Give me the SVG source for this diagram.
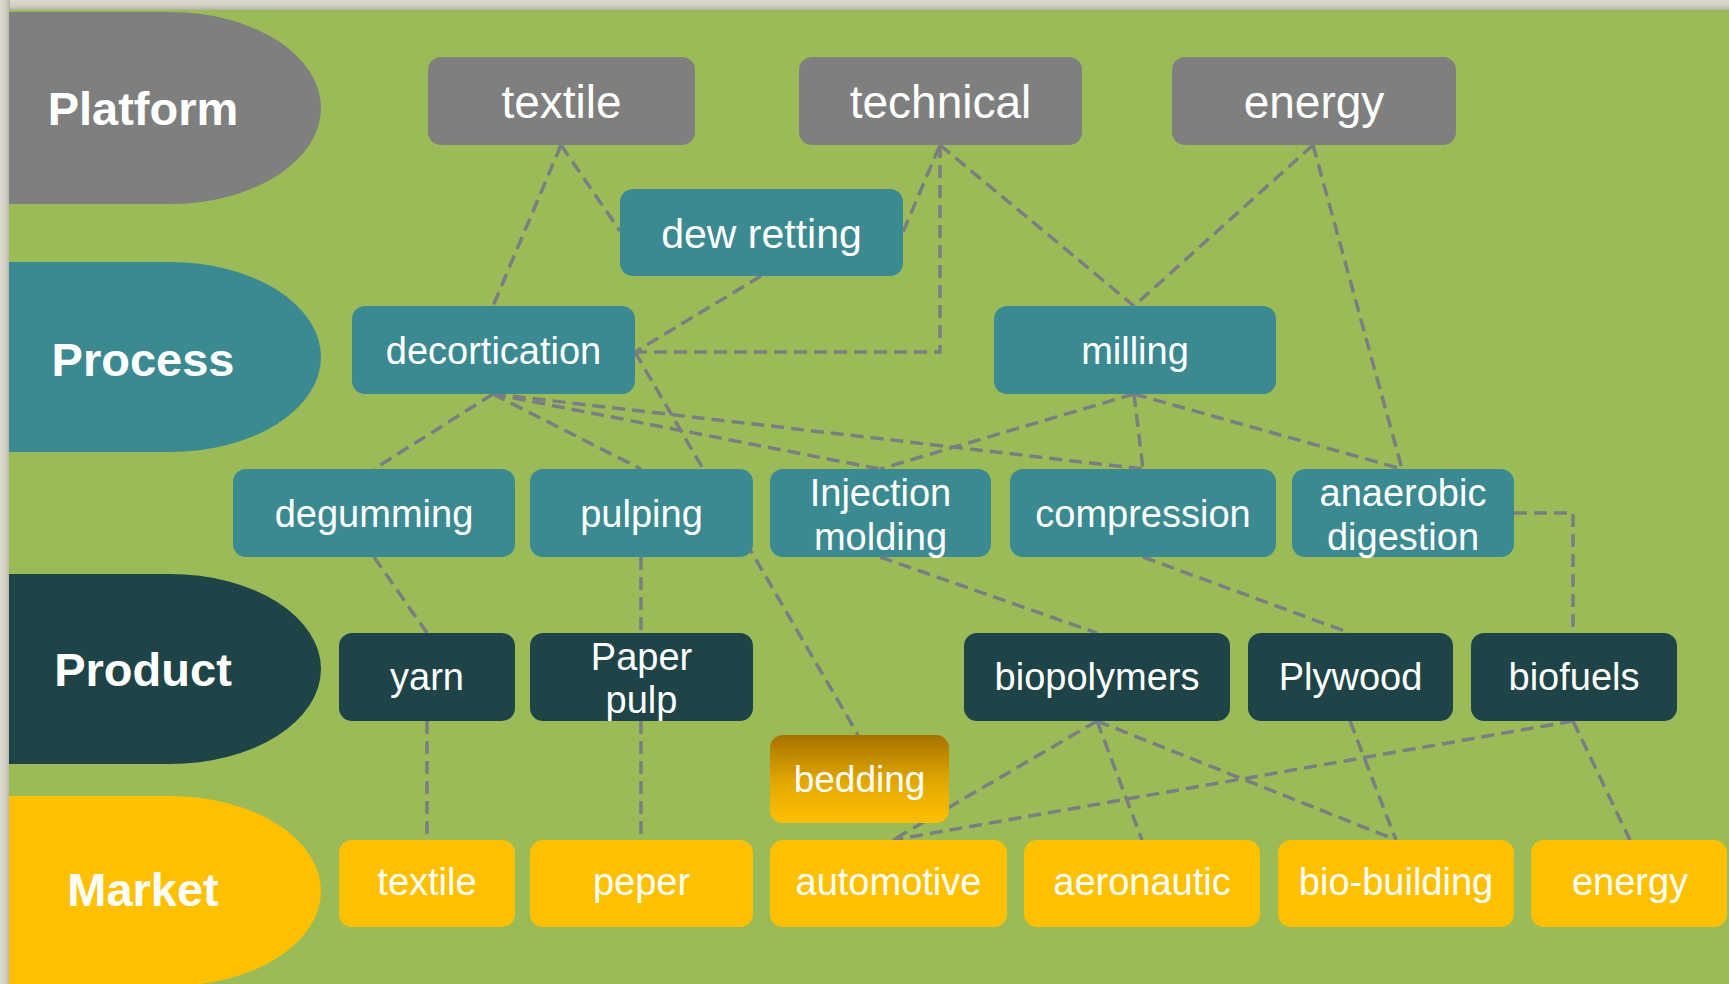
<svg xmlns="http://www.w3.org/2000/svg" width="1729" height="984" viewBox="0 0 1729 984">
  <defs>
    <linearGradient id="frameTop" x1="0" y1="0" x2="0" y2="1">
      <stop offset="0" stop-color="#dedbd0"/>
      <stop offset="0.6" stop-color="#cfccbf"/>
      <stop offset="1" stop-color="#a9a79b"/>
    </linearGradient>
    <linearGradient id="frameLeft" x1="0" y1="0" x2="1" y2="0">
      <stop offset="0" stop-color="#dedbd0"/>
      <stop offset="0.6" stop-color="#cfccbf"/>
      <stop offset="1" stop-color="#b3b1a5"/>
    </linearGradient>
    <linearGradient id="beddingFill" x1="0" y1="0" x2="0" y2="1">
      <stop offset="0" stop-color="#a87200"/>
      <stop offset="0.55" stop-color="#e3a900"/>
      <stop offset="1" stop-color="#ffc000"/>
    </linearGradient>
    <style>
      .lane-label { font-family: "Liberation Sans", Arial, sans-serif; font-weight: bold; font-size: 47px; fill: #ffffff; text-anchor: middle; }
      .big { font-family: "Liberation Sans", Arial, sans-serif; font-size: 46px; fill: #ffffff; text-anchor: middle; }
      .txt { font-family: "Liberation Sans", Arial, sans-serif; font-size: 38px; fill: #ffffff; text-anchor: middle; }
      .platform { fill: #7f7f7f; }
      .process { fill: #3b8a91; }
      .product { fill: #1f4448; }
      .market { fill: #ffc000; }
      .link { fill: none; stroke: #7b7e80; stroke-width: 3.5; stroke-dasharray: 13 7; }
    </style>
  </defs>

  <!-- frame and background -->
  <rect x="0" y="0" width="1729" height="984" fill="#cfccbf"/>
  <rect x="0" y="0" width="1729" height="11" fill="url(#frameTop)"/>
  <rect x="0" y="0" width="10" height="984" fill="url(#frameLeft)"/>
  <rect x="9" y="10" width="1720" height="974" fill="#9bbb59"/>

  <!-- lane headers -->
  <g id="lane-platform">
    <path class="platform" d="M 9 12 H 170 A 151 96 0 0 1 170 204 H 9 Z"/>
    <text class="lane-label" x="143" y="125">Platform</text>
  </g>
  <g id="lane-process">
    <path class="process" d="M 9 262 H 170 A 151 95 0 0 1 170 452 H 9 Z"/>
    <text class="lane-label" x="143" y="376">Process</text>
  </g>
  <g id="lane-product">
    <path class="product" d="M 9 574 H 170 A 151 95 0 0 1 170 764 H 9 Z"/>
    <text class="lane-label" x="143" y="686">Product</text>
  </g>
  <g id="lane-market">
    <path class="market" d="M 9 796 H 170 A 151 95 0 0 1 170 986 H 9 Z"/>
    <text class="lane-label" x="143" y="906">Market</text>
  </g>

  <!-- connectors -->
  <g id="connectors">
    <line class="link" x1="561" y1="145" x2="493" y2="306"/>
    <line class="link" x1="561" y1="145" x2="620" y2="231"/>
    <line class="link" x1="903" y1="232" x2="940" y2="145"/>
    <polyline class="link" points="940,145 940,352 635,352"/>
    <line class="link" x1="761" y1="276" x2="635" y2="352"/>
    <line class="link" x1="635" y1="352" x2="858" y2="735"/>
    <line class="link" x1="940" y1="145" x2="1134" y2="306"/>
    <line class="link" x1="1313" y1="145" x2="1134" y2="306"/>
    <line class="link" x1="1313" y1="145" x2="1402" y2="469"/>
    <line class="link" x1="493" y1="394" x2="374" y2="469"/>
    <line class="link" x1="493" y1="394" x2="641" y2="469"/>
    <line class="link" x1="493" y1="394" x2="880" y2="469"/>
    <line class="link" x1="493" y1="394" x2="1143" y2="469"/>
    <line class="link" x1="1134" y1="394" x2="880" y2="469"/>
    <line class="link" x1="1134" y1="394" x2="1143" y2="469"/>
    <line class="link" x1="1134" y1="394" x2="1402" y2="469"/>
    <line class="link" x1="374" y1="557" x2="427" y2="633"/>
    <line class="link" x1="641" y1="557" x2="641" y2="633"/>
    <line class="link" x1="880" y1="557" x2="1097" y2="633"/>
    <line class="link" x1="1143" y1="557" x2="1350" y2="633"/>
    <polyline class="link" points="1514,513 1573,513 1573,633"/>
    <line class="link" x1="427" y1="721" x2="427" y2="840"/>
    <line class="link" x1="641" y1="721" x2="641" y2="840"/>
    <line class="link" x1="1097" y1="721" x2="893" y2="840"/>
    <line class="link" x1="1097" y1="721" x2="1142" y2="840"/>
    <line class="link" x1="1097" y1="721" x2="1396" y2="840"/>
    <line class="link" x1="1350" y1="721" x2="1396" y2="840"/>
    <line class="link" x1="1573" y1="721" x2="893" y2="840"/>
    <line class="link" x1="1573" y1="721" x2="1630" y2="840"/>
  </g>

  <!-- platform row -->
  <g id="platform-textile">
    <rect class="platform" x="428" y="57" width="267" height="88" rx="13"/>
    <text class="big" x="561.5" y="118">textile</text>
  </g>
  <g id="platform-technical">
    <rect class="platform" x="799" y="57" width="283" height="88" rx="13"/>
    <text class="big" x="940.5" y="118">technical</text>
  </g>
  <g id="platform-energy">
    <rect class="platform" x="1172" y="57" width="284" height="88" rx="13"/>
    <text class="big" x="1314" y="118">energy</text>
  </g>

  <!-- process rows -->
  <g id="process-dew-retting">
    <rect class="process" x="620" y="189" width="283" height="87" rx="13"/>
    <text class="txt" x="761.5" y="248" style="font-size:41px">dew retting</text>
  </g>
  <g id="process-decortication">
    <rect class="process" x="352" y="306" width="283" height="88" rx="13"/>
    <text class="txt" x="493.5" y="364">decortication</text>
  </g>
  <g id="process-milling">
    <rect class="process" x="994" y="306" width="282" height="88" rx="13"/>
    <text class="txt" x="1135" y="364">milling</text>
  </g>
  <g id="process-degumming">
    <rect class="process" x="233" y="469" width="282" height="88" rx="13"/>
    <text class="txt" x="374" y="527">degumming</text>
  </g>
  <g id="process-pulping">
    <rect class="process" x="530" y="469" width="223" height="88" rx="13"/>
    <text class="txt" x="641.5" y="527">pulping</text>
  </g>
  <g id="process-injection-molding">
    <rect class="process" x="770" y="469" width="221" height="88" rx="13"/>
    <text class="txt" x="880.5" y="506">Injection</text>
    <text class="txt" x="880.5" y="550">molding</text>
  </g>
  <g id="process-compression">
    <rect class="process" x="1010" y="469" width="266" height="88" rx="13"/>
    <text class="txt" x="1143" y="527">compression</text>
  </g>
  <g id="process-anaerobic-digestion">
    <rect class="process" x="1292" y="469" width="222" height="88" rx="13"/>
    <text class="txt" x="1403" y="506">anaerobic</text>
    <text class="txt" x="1403" y="550">digestion</text>
  </g>

  <!-- product row -->
  <g id="product-yarn">
    <rect class="product" x="339" y="633" width="176" height="88" rx="13"/>
    <text class="txt" x="427" y="690">yarn</text>
  </g>
  <g id="product-paper-pulp">
    <rect class="product" x="530" y="633" width="223" height="88" rx="13"/>
    <text class="txt" x="641.5" y="670">Paper</text>
    <text class="txt" x="641.5" y="713">pulp</text>
  </g>
  <g id="product-biopolymers">
    <rect class="product" x="964" y="633" width="266" height="88" rx="13"/>
    <text class="txt" x="1097" y="690">biopolymers</text>
  </g>
  <g id="product-plywood">
    <rect class="product" x="1248" y="633" width="205" height="88" rx="13"/>
    <text class="txt" x="1350.5" y="690">Plywood</text>
  </g>
  <g id="product-biofuels">
    <rect class="product" x="1471" y="633" width="206" height="88" rx="13"/>
    <text class="txt" x="1574" y="690">biofuels</text>
  </g>
  <g id="product-bedding">
    <rect x="770" y="735" width="179" height="88" rx="13" fill="url(#beddingFill)"/>
    <text class="txt" x="859.5" y="792" style="font-size:37px">bedding</text>
  </g>

  <!-- market row -->
  <g id="market-textile">
    <rect class="market" x="339" y="840" width="176" height="87" rx="13"/>
    <text class="txt" x="427" y="895">textile</text>
  </g>
  <g id="market-peper">
    <rect class="market" x="530" y="840" width="223" height="87" rx="13"/>
    <text class="txt" x="641.5" y="895">peper</text>
  </g>
  <g id="market-automotive">
    <rect class="market" x="770" y="840" width="237" height="87" rx="13"/>
    <text class="txt" x="888.5" y="895">automotive</text>
  </g>
  <g id="market-aeronautic">
    <rect class="market" x="1024" y="840" width="236" height="87" rx="13"/>
    <text class="txt" x="1142" y="895">aeronautic</text>
  </g>
  <g id="market-bio-building">
    <rect class="market" x="1278" y="840" width="236" height="87" rx="13"/>
    <text class="txt" x="1396" y="895">bio-building</text>
  </g>
  <g id="market-energy">
    <rect class="market" x="1531" y="840" width="196" height="87" rx="13"/>
    <text class="txt" x="1630" y="895">energy</text>
  </g>
</svg>
